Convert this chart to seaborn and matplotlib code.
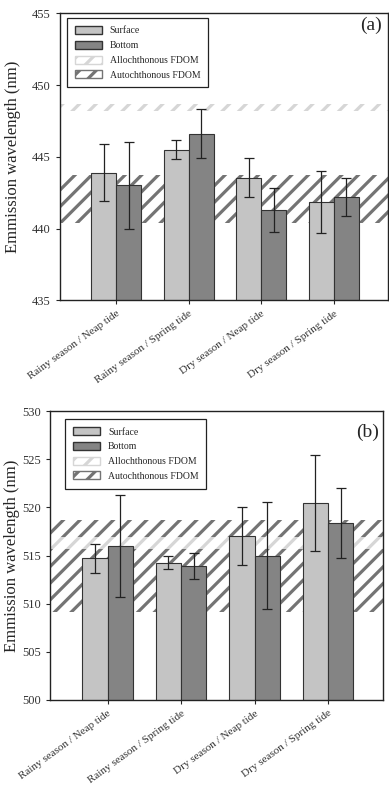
import numpy as np
import pandas as pd
import matplotlib
matplotlib.use('Agg')
import matplotlib.pyplot as plt
import seaborn as sns
from matplotlib.patches import Patch

# datos
categories = ['Rainy season / Neap tide', 'Rainy season / Spring tide',
              'Dry season / Neap tide', 'Dry season / Spring tide']
levels = ['Surface', 'Bottom']

# panel (a)
surface_a = [443.9, 445.5, 443.55, 441.85]
surface_a_err = [2.0, 0.65, 1.35, 2.15]
bottom_a = [443.0, 446.6, 441.3, 442.2]
bottom_a_err = [3.05, 1.7, 1.55, 1.35]
allo_a = [448.2, 448.7]
auto_a = [440.4, 443.7]

# panel (b)
surface_b = [514.7, 514.25, 517.05, 520.5]
surface_b_err = [1.55, 0.7, 3.05, 5.0]
bottom_b = [516.0, 513.9, 515.0, 518.4]
bottom_b_err = [5.3, 1.35, 5.6, 3.65]
allo_b = [515.7, 516.9]
auto_b = [509.1, 518.7]

sns.set_style('white')
plt.rcParams['font.family'] = ['Liberation Serif', 'DejaVu Serif']
plt.rcParams['hatch.linewidth'] = 2.3

c_surface = '#c4c4c4'
c_bottom = '#848484'
c_auto = '#747474'
c_allo = '#d6d6d6'


def panel(ax, surf, surf_err, bott, bott_err, allo, auto, ylim, yticks, tag,
          leg_anchor, tag_pos):
    df = pd.DataFrame({
        'cat': categories * 2,
        'level': ['Surface'] * 4 + ['Bottom'] * 4,
        'value': surf + bott,
        'err': surf_err + bott_err,
    })
    # bandas FDOM
    ax.axhspan(auto[0], auto[1], facecolor='white', edgecolor=c_auto,
               hatch='//', linewidth=0, zorder=0.5)
    ax.axhspan(allo[0], allo[1], facecolor='white', edgecolor=c_allo,
               hatch='//', linewidth=0, zorder=0.6)
    sns.barplot(data=df, x='cat', y='value', hue='level', hue_order=levels,
                order=categories, palette=[c_surface, c_bottom], width=0.69,
                errorbar=None, edgecolor='#333333', linewidth=0.8, ax=ax,
                zorder=2, legend=False)
    errs = {'Surface': surf_err, 'Bottom': bott_err}
    vals = {'Surface': surf, 'Bottom': bott}
    for cont, lev in zip(ax.containers, levels):
        xs = [p.get_x() + p.get_width() / 2 for p in cont.patches]
        ax.errorbar(xs, vals[lev], yerr=errs[lev], fmt='none', ecolor='#222222',
                    elinewidth=0.9, capsize=3.5, capthick=0.9, zorder=3)
    ax.set_ylim(*ylim)
    ax.set_yticks(yticks)
    ax.set_xlim(-0.78, 3.75)
    ax.set_xlabel('')
    ax.set_ylabel('Emmission wavelength (nm)', fontsize=12)
    ax.tick_params(axis='y', labelsize=9, length=3, direction='out', left=True,
                   labelcolor='#333333')
    ax.tick_params(axis='x', labelsize=8, length=3, direction='out', bottom=True,
                   labelcolor='#333333')
    plt.setp(ax.get_xticklabels(), rotation=36, ha='right', rotation_mode='anchor')
    for s in ax.spines.values():
        s.set_color('#222222')
        s.set_linewidth(1.0)
    handles = [Patch(facecolor=c_surface, edgecolor='#333333', label='Surface'),
               Patch(facecolor=c_bottom, edgecolor='#333333', label='Bottom'),
               Patch(facecolor='white', edgecolor=c_allo, hatch='//',
                     label='Allochthonous FDOM'),
               Patch(facecolor='white', edgecolor=c_auto, hatch='//',
                     label='Autochthonous FDOM')]
    leg = ax.legend(handles=handles, loc='upper left', bbox_to_anchor=leg_anchor,
                    borderaxespad=0, fontsize=7, fancybox=False, framealpha=1,
                    edgecolor='#222222', handlelength=2.8, handleheight=0.9,
                    labelspacing=0.55, borderpad=0.8)
    leg.get_frame().set_linewidth(0.9)
    ax.text(tag_pos[0], tag_pos[1], tag, transform=ax.transAxes, fontsize=14,
            ha='center', va='center')


fig = plt.figure(figsize=(3.89, 7.88), dpi=100)
ax1 = fig.add_axes([0.154, 0.619, 0.843, 0.364])
ax2 = fig.add_axes([0.129, 0.112, 0.856, 0.366])

panel(ax1, surface_a, surface_a_err, bottom_a, bottom_a_err, allo_a, auto_a,
      (435, 455), [435, 440, 445, 450, 455], '(a)', (0.021, 0.983), (0.95, 0.958))
panel(ax2, surface_b, surface_b_err, bottom_b, bottom_b_err, allo_b, auto_b,
      (500, 530), [500, 505, 510, 515, 520, 525, 530], '(b)', (0.045, 0.972),
      (0.952, 0.927))
ax1.yaxis.set_label_coords(-0.118, 0.5)
ax2.yaxis.set_label_coords(-0.092, 0.5)

plt.savefig('out.png', dpi=100)
